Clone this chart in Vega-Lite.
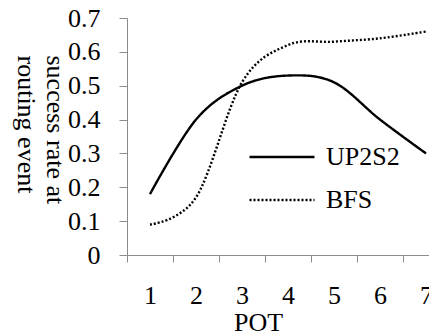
{
  "$schema": "https://vega.github.io/schema/vega-lite/v6.json",
  "width": 322,
  "height": 237,
  "autosize": {"type": "none"},
  "padding": {"left": 127, "top": 18, "right": 0, "bottom": 78},
  "background": "white",
  "config": {
    "view": {"stroke": null},
    "font": "Liberation Serif, Times New Roman, DejaVu Serif, serif",
    "axis": {"labelFont": "Liberation Serif, Times New Roman, DejaVu Serif, serif", "titleFont": "Liberation Serif, Times New Roman, DejaVu Serif, serif", "labelColor": "black", "titleColor": "black", "titleFontWeight": "normal", "domainColor": "#8c8c8c", "tickColor": "#8c8c8c", "grid": false},
    "legend": {"labelFont": "Liberation Serif, Times New Roman, DejaVu Serif, serif"}
  },
  "data": {
    "values": [
      {"pot": "1", "series": "UP2S2", "rate": 0.18},
      {"pot": "2", "series": "UP2S2", "rate": 0.40},
      {"pot": "3", "series": "UP2S2", "rate": 0.50},
      {"pot": "4", "series": "UP2S2", "rate": 0.53},
      {"pot": "5", "series": "UP2S2", "rate": 0.51},
      {"pot": "6", "series": "UP2S2", "rate": 0.40},
      {"pot": "7", "series": "UP2S2", "rate": 0.30},
      {"pot": "1", "series": "BFS", "rate": 0.09},
      {"pot": "2", "series": "BFS", "rate": 0.17},
      {"pot": "3", "series": "BFS", "rate": 0.51},
      {"pot": "4", "series": "BFS", "rate": 0.62},
      {"pot": "5", "series": "BFS", "rate": 0.63},
      {"pot": "6", "series": "BFS", "rate": 0.64},
      {"pot": "7", "series": "BFS", "rate": 0.66}
    ]
  },
  "mark": {"type": "line", "interpolate": "cardinal", "tension": 0, "strokeCap": "butt"},
  "encoding": {
    "x": {
      "field": "pot", "type": "ordinal", "bandPosition": 0.5,
      "scale": {"type": "band", "paddingInner": 0, "paddingOuter": 0},
      "axis": {
        "title": "POT", "titleFontSize": 26, "titleX": 131, "titleY": 75, "titleAlign": "center", "titleBaseline": "alphabetic",
        "labelFontSize": 26, "labelAngle": 0, "labelBaseline": "alphabetic", "labelPadding": 41, "tickSize": 7, "tickBand": "extent"
      }
    },
    "y": {
      "field": "rate", "type": "quantitative",
      "scale": {"domain": [0, 0.7], "nice": false, "zero": true},
      "axis": {
        "values": [0, 0.1, 0.2, 0.3, 0.4, 0.5, 0.6, 0.7], "format": ".1~f",
        "labelFontSize": 26, "tickSize": 8, "labelPadding": 19,
        "title": ["success rate at", "routing event"], "titleFontSize": 26, "titleAngle": 90,
        "titleX": -73, "titleY": 37, "titleAlign": "left", "titleBaseline": "middle", "titleLineHeight": 29
      }
    },
    "color": {
      "field": "series", "type": "nominal",
      "scale": {"domain": ["UP2S2", "BFS"], "range": ["black", "black"]},
      "legend": {
        "title": null, "orient": "none", "legendX": 121, "legendY": 124, "padding": 0,
        "symbolType": "stroke", "symbolSize": 4225, "symbolStrokeWidth": 2.4, "clipHeight": 30, "rowPadding": 13,
        "labelFontSize": 26, "labelOffset": 10, "labelColor": "black"
      }
    },
    "strokeDash": {
      "field": "series", "type": "nominal",
      "scale": {"domain": ["UP2S2", "BFS"], "range": [[1, 0], [2, 2]]},
      "legend": {
        "title": null, "orient": "none", "legendX": 121, "legendY": 124, "padding": 0,
        "symbolType": "stroke", "symbolSize": 4225, "symbolStrokeWidth": 2.4, "clipHeight": 30, "rowPadding": 13,
        "labelFontSize": 26, "labelOffset": 10, "labelColor": "black"
      }
    },
    "strokeWidth": {"value": 2.4}
  }
}
